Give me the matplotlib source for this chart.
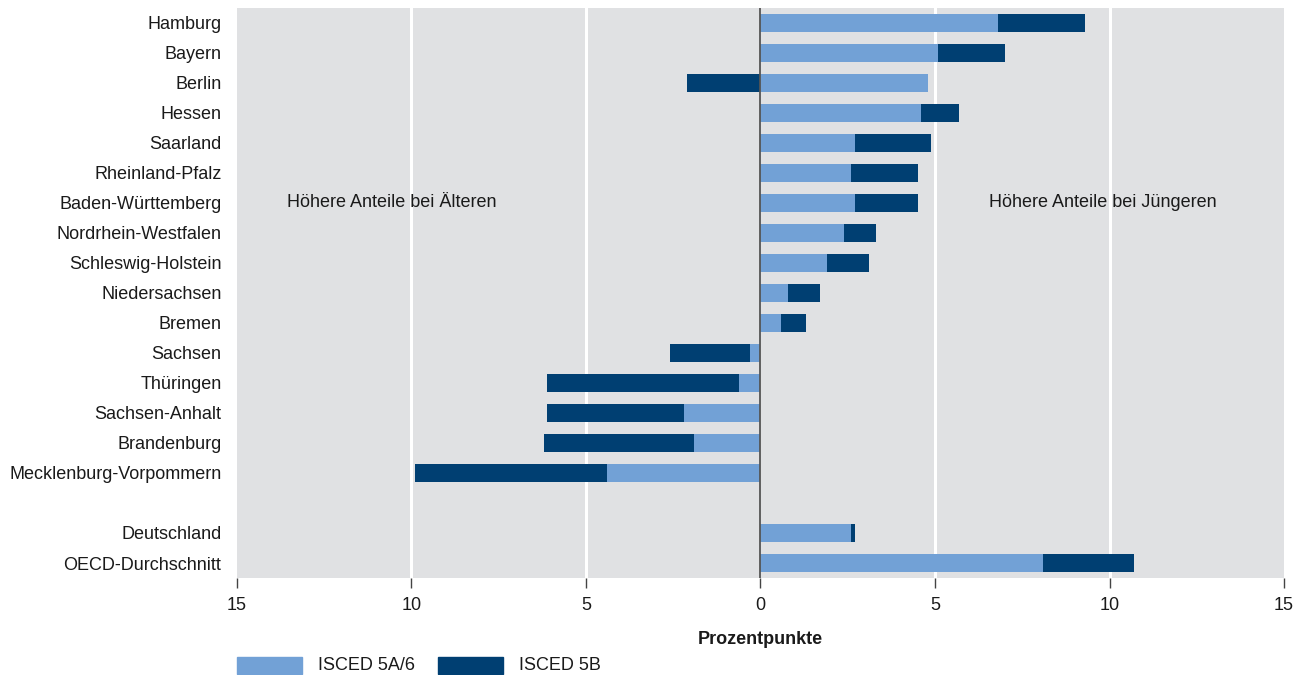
import matplotlib
matplotlib.use("Agg")
import matplotlib.pyplot as plt
from matplotlib.patches import Rectangle

plt.rcParams['font.family'] = ['Liberation Sans', 'DejaVu Sans']

laender = ["Hamburg", "Bayern", "Berlin", "Hessen", "Saarland", "Rheinland-Pfalz",
           "Baden-Württemberg", "Nordrhein-Westfalen", "Schleswig-Holstein",
           "Niedersachsen", "Bremen", "Sachsen", "Thüringen", "Sachsen-Anhalt",
           "Brandenburg", "Mecklenburg-Vorpommern"]
laender_5a = [6.8, 5.1, 4.8, 4.6, 2.7, 2.6, 2.7, 2.4, 1.9, 0.8, 0.6,
              -0.3, -0.6, -2.2, -1.9, -4.4]
laender_5b = [2.5, 1.9, -2.1, 1.1, 2.2, 1.9, 1.8, 0.9, 1.2, 0.9, 0.7,
              -2.3, -5.5, -3.9, -4.3, -5.5]

summen = ["Deutschland", "OECD-Durchschnitt"]
summen_5a = [2.6, 8.1]
summen_5b = [0.1, 2.6]

tick_values = [-15, -10, -5, 0, 5, 10, 15]
tick_labels = ["15", "10", "5", "0", "5", "10", "15"]

c_light = "#72A1D6"
c_dark = "#003F72"
bg = "#E0E1E3"
fs = 13

labels = laender + summen
v5a = laender_5a + summen_5a
v5b = laender_5b + summen_5b
ypos = list(range(len(laender))) + [len(laender) + 1 + i for i in range(len(summen))]

fig = plt.figure(figsize=(13.08, 6.75), dpi=100)
ax = fig.add_axes([0.181, 0.1437, 0.8007, 0.8445])
ax.set_facecolor(bg)

for x in [-10, -5, 5, 10]:
    ax.axvline(x, color="white", lw=2.2, zorder=1)

h = 0.57
for y, a, b in zip(ypos, v5a, v5b):
    ax.barh(y, a, height=h, color=c_light, zorder=2)
    # 5B stacked on the end of 5A if same sign, else starting from zero
    if (a >= 0) == (b >= 0):
        left = a
    else:
        left = 0
    ax.barh(y, b, left=left, height=h, color=c_dark, zorder=2)

ax.axvline(0, color="#555555", lw=1.3, zorder=3)

ax.set_xlim(-15, 15)
ax.set_ylim(len(laender) + len(summen) + 0.5, -0.5)
ax.set_yticks(ypos)
ax.set_yticklabels(labels, fontsize=fs, color="#1a1a1a")
ax.tick_params(axis="y", length=0, pad=11)
ax.set_xticks(tick_values)
ax.set_xticklabels(tick_labels, fontsize=fs, color="#1a1a1a")
ax.tick_params(axis="x", length=7, width=1, color="#444444", direction="out", pad=7)
for s in ax.spines.values():
    s.set_visible(False)

ax.text(-10.55, 6, "Höhere Anteile bei Älteren", ha="center", va="center",
        fontsize=fs, color="#1a1a1a", zorder=4)
ax.text(9.8, 6, "Höhere Anteile bei Jüngeren", ha="center", va="center",
        fontsize=fs, color="#1a1a1a", zorder=4)

ax.set_xlabel("Prozentpunkte", fontsize=fs, fontweight="bold", labelpad=12,
              color="#1a1a1a")

# legend
fig.patches.append(Rectangle((237 / 1308, 1 - 674 / 675), 65 / 1308, 17 / 675,
                             transform=fig.transFigure, color=c_light))
fig.text(318 / 1308, 1 - 665 / 675, "ISCED 5A/6", fontsize=fs, va="center",
         color="#1a1a1a")
fig.patches.append(Rectangle((438 / 1308, 1 - 674 / 675), 65 / 1308, 17 / 675,
                             transform=fig.transFigure, color=c_dark))
fig.text(519 / 1308, 1 - 665 / 675, "ISCED 5B", fontsize=fs, va="center",
         color="#1a1a1a")

fig.savefig("out.png", dpi=100, facecolor="white")
